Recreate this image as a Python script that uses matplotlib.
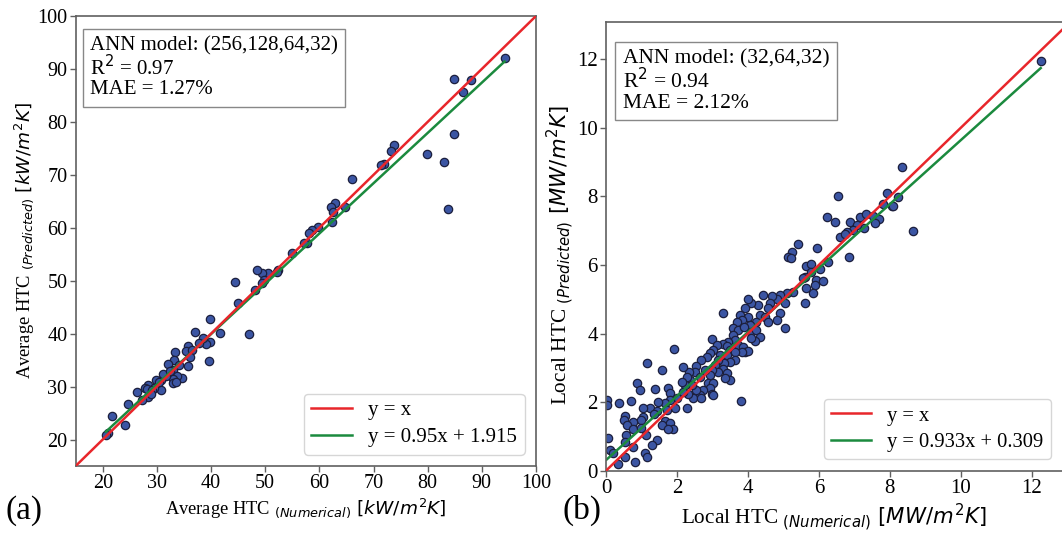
import numpy as np
import matplotlib
matplotlib.use("Agg")
import matplotlib.pyplot as plt

# ---------------- data ----------------
# Panel (a): average HTC (kW/m^2K)
avg_num = [94.2, 84.9, 88.0, 86.6, 84.8, 79.8, 83.0, 83.7, 73.8, 73.2, 71.9, 71.3,
           66.0, 64.7, 62.9, 62.2, 62.5, 62.4, 59.8, 58.7, 58.1, 57.7, 57.2, 54.9,
           52.4, 52.1, 50.6, 49.5, 48.4, 49.7, 49.4, 48.1, 44.4, 44.9, 47.0, 39.8,
           41.7, 37.0, 39.9, 39.0, 38.6, 37.7, 39.7, 35.8, 35.3, 36.4, 36.1, 35.7,
           33.4, 33.2, 32.1, 33.0, 34.0, 34.7, 33.7, 32.9, 32.9, 33.5, 31.7, 30.8,
           30.0, 30.8, 29.8, 28.4, 27.8, 28.4, 27.2, 28.1, 29.5, 29.1, 26.4, 24.6,
           21.8, 24.1, 21.0, 20.6, 31.2, 30.4, 32.5, 29.0]
avg_pred = [92.0, 88.1, 88.0, 85.7, 77.7, 73.9, 72.5, 63.5, 75.6, 74.5, 72.0, 71.9,
            69.3, 64.0, 64.7, 64.0, 62.9, 61.1, 60.2, 59.6, 59.0, 57.1, 57.2, 55.2,
            52.0, 51.6, 51.5, 51.5, 52.0, 50.1, 49.5, 48.2, 49.8, 45.7, 39.9, 42.7,
            40.2, 40.4, 38.5, 38.0, 39.1, 38.2, 34.9, 37.7, 36.7, 37.0, 35.6, 33.8,
            36.6, 35.0, 34.2, 33.2, 34.0, 31.7, 32.0, 31.5, 30.6, 30.8, 32.0, 31.2,
            30.3, 29.4, 31.2, 30.3, 29.8, 28.1, 27.4, 29.6, 29.8, 29.3, 29.0, 26.8,
            24.5, 22.7, 21.3, 20.8, 32.4, 30.9, 33.0, 28.6]

# Panel (b): local HTC (MW/m^2K)
loc_num = [12.25, 8.33, 8.66, 6.54, 7.91, 8.24, 8.05,
           6.24, 6.45, 6.87, 7.15, 7.34, 7.53, 7.70, 7.58, 7.28, 7.06, 6.97, 6.78,
           6.59, 6.73, 8.09, 7.81, 6.85, 5.95, 5.40, 5.23, 5.14, 5.21,
           5.65, 5.79, 6.03, 6.26, 5.93, 6.12,
           5.79, 5.61, 5.56, 5.89, 5.84, 5.65, 5.61, 5.28, 5.09, 4.90, 5.05, 4.81,
           4.67, 4.43, 4.62, 4.57, 4.29, 4.10, 4.01, 3.92, 4.34, 4.48, 4.57, 4.90,
           4.81, 5.05, 4.23, 4.07, 4.01, 3.77, 3.82, 3.68, 3.59, 3.73, 3.89, 4.10,
           4.24, 4.34, 4.19, 4.10, 3.29, 2.98, 3.59, 3.63, 3.44, 3.29, 3.12, 3.40,
           3.49, 3.73, 3.87, 3.92, 4.01, 3.82, 3.63, 3.02, 2.93, 3.21, 3.40, 3.63,
           3.49, 3.33, 3.17, 2.84, 2.69, 3.07, 3.29, 3.40, 3.17, 3.49, 3.35, 2.98,
           2.93, 2.79, 2.55, 2.51, 2.35, 2.16, 2.65, 2.88, 3.02, 2.93, 2.98, 2.74,
           2.65, 2.54, 2.37, 2.27, 2.41, 2.23, 2.13, 2.46, 2.69, 2.32, 2.18, 3.02,
           3.80,
           1.92, 1.15, 1.57, 0.88, 0.96, 1.38, 1.76, 1.80, 1.99, 1.80, 1.66, 1.48,
           0.70, 0.38, 0.02, 0.02, 2.27, 1.94, 1.71, 1.24, 1.05, 1.45, 1.35, 1.05,
           1.00, 0.54, 0.51, 0.75, 0.58, 0.77, 1.66, 1.80, 1.57, 1.88, 1.76, 1.00,
           0.56, 1.13, 1.43, 0.07, 0.77, 1.29, 0.54, 0.11, 0.21, 1.10, 1.15, 0.54,
           0.35, 0.82]
loc_pred = [11.94, 8.86, 6.99, 8.01, 8.09, 7.99, 7.73,
            7.41, 7.26, 7.26, 7.39, 7.48, 7.42, 7.33, 7.23, 7.09, 7.16, 7.02, 6.97,
            6.82, 6.90, 7.72, 7.79, 6.22, 6.50, 6.60, 6.38, 6.22, 6.19,
            5.97, 6.03, 5.87, 6.09, 5.56, 5.54,
            5.80, 5.66, 5.61, 5.41, 5.17, 5.32, 4.90, 5.22, 5.17, 5.12, 4.88, 5.02,
            5.09, 5.12, 4.88, 4.73, 4.83, 4.88, 5.00, 4.73, 4.54, 4.47, 4.34, 4.59,
            4.39, 4.15, 4.34, 4.25, 4.49, 4.54, 4.39, 4.34, 4.15, 4.10, 4.18, 4.05,
            4.10, 3.91, 3.79, 3.86, 4.59, 3.84, 3.95, 3.81, 3.76, 3.69, 3.66, 3.63,
            3.52, 3.66, 3.62, 3.47, 3.49, 3.45, 3.47, 3.52, 3.42, 3.37, 3.37, 3.23,
            3.18, 3.13, 3.23, 3.32, 3.23, 3.08, 2.98, 2.84, 2.89, 2.64, 2.69, 2.93,
            2.79, 2.95, 3.05, 2.89, 2.89, 3.03, 2.74, 2.55, 2.55, 2.40, 2.25, 2.35,
            2.21, 2.35, 2.64, 2.74, 2.50, 2.50, 2.59, 2.11, 2.11, 2.25, 2.30, 2.21,
            2.03,
            3.54, 3.15, 2.95, 2.57, 2.35, 2.37, 2.42, 2.27, 2.11, 2.06, 1.98, 2.01,
            2.04, 1.96, 2.05, 1.92, 1.82, 1.82, 1.77, 1.84, 1.82, 1.75, 1.65, 1.57,
            1.48, 1.59, 1.48, 1.43, 1.33, 1.23, 1.46, 1.38, 1.33, 1.23, 1.23, 1.26,
            1.04, 1.04, 0.91, 0.94, 0.70, 0.75, 0.85, 0.60, 0.51, 0.51, 0.41, 0.41,
            0.21, 0.26]

fit_a = (0.95, 1.915)
fit_b = (0.933, 0.309)

text_a = "ANN model: (256,128,64,32)\nR$^2$ = 0.97\nMAE = 1.27%"
text_b = "ANN model: (32,64,32)\nR$^2$ = 0.94\nMAE = 2.12%"
leg_a = ["y = x", "y = 0.95x + 1.915"]
leg_b = ["y = x", "y = 0.933x + 0.309"]

# ---------------- style ----------------
plt.rcParams['font.family'] = ['Liberation Serif', 'DejaVu Serif']
plt.rcParams['mathtext.fontset'] = 'dejavusans'

RED = '#e8262b'
GREEN = '#1b8a3e'
FACE = '#3b55a3'
EDGE = '#1c1f3d'
SPINE = '#606060'

fig = plt.figure(figsize=(10.62, 5.34), dpi=100)
axA = fig.add_axes([0.0712, 0.1273, 0.4335, 0.8427])
axB = fig.add_axes([0.5706, 0.1185, 0.4294, 0.8408])


def panel(ax, xn, yp, fit, xlim, ylim, txt, txtpos, leg, xlab, ylab,
          tick_fs, box_fs, leg_fs, lab_fs):
    for s in ax.spines.values():
        s.set_color(SPINE)
        s.set_linewidth(1.2)
    ax.tick_params(axis='both', labelsize=tick_fs, length=4, width=1, color=SPINE, pad=2)
    xn = np.asarray(xn)
    d = [min(xlim[0], ylim[0]), max(xlim[1], ylim[1])]
    ax.plot(d, d, color=RED, lw=1.8, label=leg[0], zorder=3)
    xs = np.array([xn.min(), xn.max()])
    ax.plot(xs, fit[0] * xs + fit[1], color=GREEN, lw=1.8, label=leg[1], zorder=2)
    ax.scatter(xn, yp, s=36, facecolor=FACE, edgecolor=EDGE, linewidth=0.9, zorder=1)
    ax.set_xlim(xlim)
    ax.set_ylim(ylim)
    ax.text(txtpos[0], txtpos[1], txt, transform=ax.transAxes, va='top', ha='left',
            fontsize=box_fs, linespacing=1.0,
            bbox=dict(boxstyle='square,pad=0.35', facecolor='white', edgecolor='#888888', lw=1.0))
    lg = ax.legend(loc='lower right', fontsize=leg_fs, frameon=True, fancybox=True,
                   edgecolor='#cccccc', handlelength=1.95, handletextpad=0.8,
                   borderaxespad=0.55, labelspacing=0.35, borderpad=0.35)
    lg.get_frame().set_linewidth(1.0)
    ax.set_xlabel(xlab, fontsize=lab_fs, labelpad=2)
    ax.set_ylabel(ylab, fontsize=lab_fs, labelpad=1)


panel(axA, avg_num, avg_pred, fit_a, (15, 100), (15, 100), text_a, (0.031, 0.956), leg_a,
      r"Average HTC $_{\mathit{(Numerical)}}\ [kW/m^2K]$",
      r"Average HTC $_{\mathit{(Predicted)}}\ [kW/m^2K]$",
      tick_fs=14.5, box_fs=15, leg_fs=15, lab_fs=13.3)
axA.set_xticks(np.arange(20, 101, 10))
axA.set_yticks(np.arange(20, 101, 10))

panel(axB, loc_num, loc_pred, fit_b, (0, 12.85), (0, 13.09), text_b, (0.037, 0.939), leg_b,
      r"Local HTC $_{\mathit{(Numerical)}}\ [MW/m^2K]$",
      r"Local HTC $_{\mathit{(Predicted)}}\ [MW/m^2K]$",
      tick_fs=15, box_fs=15.5, leg_fs=14.8, lab_fs=15.3)
axB.set_xticks(np.arange(0, 13, 2))
axB.set_yticks(np.arange(0, 13, 2))
axB.spines['right'].set_visible(False)
axB.yaxis.set_label_coords(-0.065, 0.48)

fig.text(0.005, 0.015, "(a)", fontsize=24, ha='left', va='bottom')
fig.text(0.53, 0.015, "(b)", fontsize=24, ha='left', va='bottom')

fig.savefig("out.png", dpi=100)
